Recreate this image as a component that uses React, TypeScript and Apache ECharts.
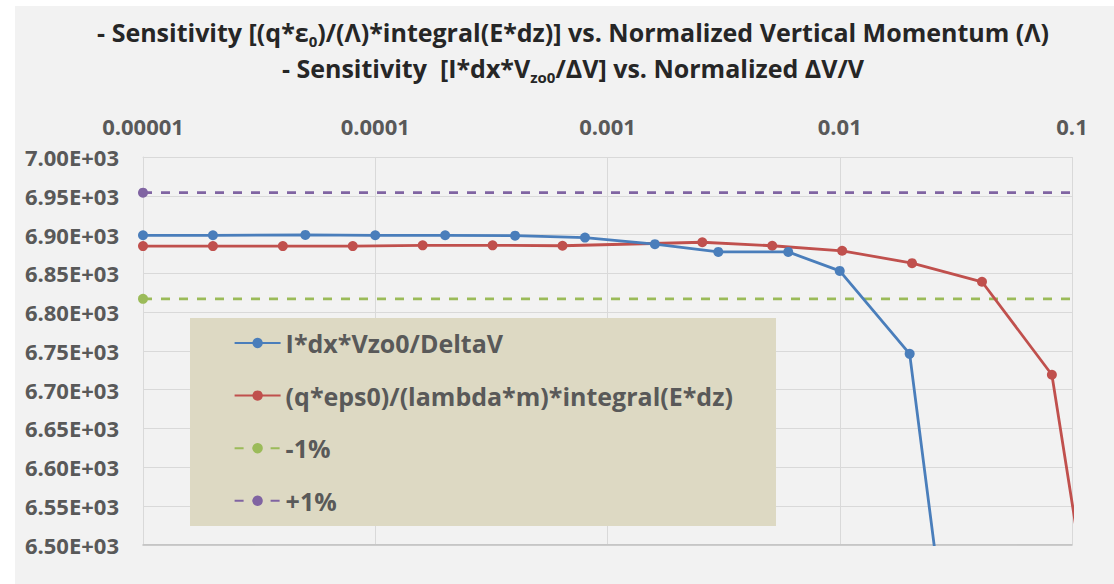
import React, { useEffect, useRef } from "react";
import * as echarts from "echarts";

// ---- data ----
const xTickLabels = ["0.00001", "0.0001", "0.001", "0.01", "0.1"];
const blueX = [1e-5, 2e-5, 5e-5, 1e-4, 2e-4, 4e-4, 8e-4, 1.6e-3, 3e-3, 6e-3, 1e-2, 2e-2, 4e-2];
const blueY = [6899, 6899, 6899.5, 6899, 6899, 6898.5, 6896, 6887.5, 6877.5, 6877.5, 6853, 6746, 6041];
const redX = [1e-5, 2e-5, 4e-5, 8e-5, 1.6e-4, 3.2e-4, 6.4e-4, 2.56e-3, 5.12e-3, 1.024e-2, 2.048e-2, 4.096e-2, 8.192e-2, 1.6384e-1];
const redY = [6885, 6885, 6885, 6885, 6886, 6886, 6885.5, 6890, 6885.5, 6879, 6863, 6839, 6719, 6147];
const refX = [1e-5, 0.1];
const minusOneY = [6817, 6817];
const plusOneY = [6954, 6954];
const seriesNames = [
  "I*dx*Vzo0/DeltaV",
  "(q*eps0)/(lambda*m)*integral(E*dz)",
  "-1%",
  "+1%",
];
const titleLine1 = [
  { t: "- Sensitivity [(q*ε", sub: false },
  { t: "0", sub: true },
  { t: ")/(Λ)*integral(E*dz)] vs. Normalized Vertical Momentum (Λ)", sub: false },
];
const titleLine2 = [
  { t: "- Sensitivity  [I*dx*V", sub: false },
  { t: "zo0", sub: true },
  { t: "/ΔV] vs. Normalized ΔV/V", sub: false },
];

const FONT = "'Open Sans', 'Noto Sans', sans-serif";
const TEXT = "#595959";
const GRID = "#d9d9d9";
const BLUE = "#4a7ebb";
const RED = "#c0504d";
const GREEN = "#9bbb59";
const PURPLE = "#8064a2";

const richTitle = {
  a: { fontFamily: FONT, fontSize: 25, fontWeight: "bold", color: "#262626", lineHeight: 32 },
  s: { fontFamily: FONT, fontSize: 15, fontWeight: "bold", color: "#262626", lineHeight: 15, verticalAlign: "bottom" },
};

function buildRich(parts: { t: string; sub: boolean }[]) {
  return parts.map((p) => `{${p.sub ? "s" : "a"}|${p.t}}`).join("");
}

function solidSeries(name: string, xs: number[], ys: number[], color: string, z: number) {
  return {
    name,
    type: "line",
    data: xs.map((x, i) => [x, ys[i]]),
    symbol: "circle",
    symbolSize: 10,
    showAllSymbol: true,
    clip: true,
    z,
    lineStyle: { color, width: 2.8 },
    itemStyle: { color },
  };
}

function dashedSeries(name: string, xs: number[], ys: number[], color: string) {
  return {
    name,
    type: "line",
    data: xs.map((x, i) => (i === 0 ? { value: [x, ys[i]] } : { value: [x, ys[i]], symbol: "none" })),
    symbol: "circle",
    symbolSize: 10,
    clip: true,
    z: 2,
    lineStyle: { color, width: 2.8, type: [9, 9] },
    itemStyle: { color },
  };
}

export default function App() {
  const ref = useRef<HTMLDivElement>(null);
  useEffect(() => {
    const chart = echarts.init(ref.current!, null, { renderer: "svg" });
    const option: any = {
      animation: false,
      backgroundColor: "#f2f2f2",
      title: [
        {
          text: buildRich(titleLine1),
          left: 558,
          top: 10,
          padding: 0,
          textAlign: "center",
          textStyle: { rich: richTitle },
        },
        {
          text: buildRich(titleLine2),
          left: 558,
          top: 46,
          padding: 0,
          textAlign: "center",
          textStyle: { rich: richTitle },
        },
      ],
      grid: { left: 128, top: 151, right: 42, bottom: 39.5, containLabel: false },
      xAxis: [
        {
          type: "log",
          logBase: 10,
          min: 1e-5,
          max: 0.1,
          position: "top",
          axisLine: { show: true, lineStyle: { color: GRID, width: 1 } },
          axisTick: { show: false },
          splitLine: { show: true, lineStyle: { color: GRID, width: 1 } },
          axisLabel: {
            formatter: (v: number) => xTickLabels[Math.round(Math.log10(v)) + 5],
            margin: 20,
            fontSize: 22,
            fontWeight: "bold",
            fontFamily: FONT,
            color: TEXT,
            showMinLabel: true,
            showMaxLabel: true,
          },
        },
        {
          type: "log",
          logBase: 10,
          min: 1e-5,
          max: 0.1,
          position: "bottom",
          axisLine: { show: true, lineStyle: { color: "#bfbfbf", width: 1.5 } },
          axisTick: { show: false },
          axisLabel: { show: false },
          splitLine: { show: false },
        },
      ],
      yAxis: {
        type: "value",
        min: 6500,
        max: 7000,
        interval: 50,
        axisLine: { show: true, lineStyle: { color: GRID, width: 1 } },
        axisTick: { show: false },
        splitLine: { show: true, lineStyle: { color: GRID, width: 1 } },
        axisLabel: {
          formatter: (v: number) => (v / 1000).toFixed(2) + "E+03",
          margin: 24,
          fontSize: 22,
          fontWeight: "bold",
          fontFamily: FONT,
          color: TEXT,
        },
      },
      graphic: [
        {
          type: "rect",
          z: 3,
          shape: { x: 175, y: 312, width: 586, height: 208 },
          style: { fill: "#ddd9c3" },
        },
      ],
      legend: {
        orient: "vertical",
        left: 218.6,
        top: 324,
        padding: 0,
        itemGap: 26.6,
        itemWidth: 46,
        itemHeight: 13,
        z: 5,
        selectedMode: false,
        data: seriesNames,
        textStyle: { fontFamily: FONT, fontSize: 25, fontWeight: "bold", color: TEXT, lineHeight: 26 },
      },
      series: [
        solidSeries(seriesNames[0], blueX, blueY, BLUE, 4),
        solidSeries(seriesNames[1], redX, redY, RED, 3),
        dashedSeries(seriesNames[2], refX, minusOneY, GREEN),
        dashedSeries(seriesNames[3], refX, plusOneY, PURPLE),
      ],
    };
    chart.setOption(option);
    return () => chart.dispose();
  }, []);
  return (
    <div style={{ position: "fixed", left: 0, top: 0, width: 1114, height: 584, background: "#ffffff" }}>
      <div ref={ref} style={{ position: "absolute", left: 15, top: 6, width: 1099, height: 578 }} />
    </div>
  );
}
